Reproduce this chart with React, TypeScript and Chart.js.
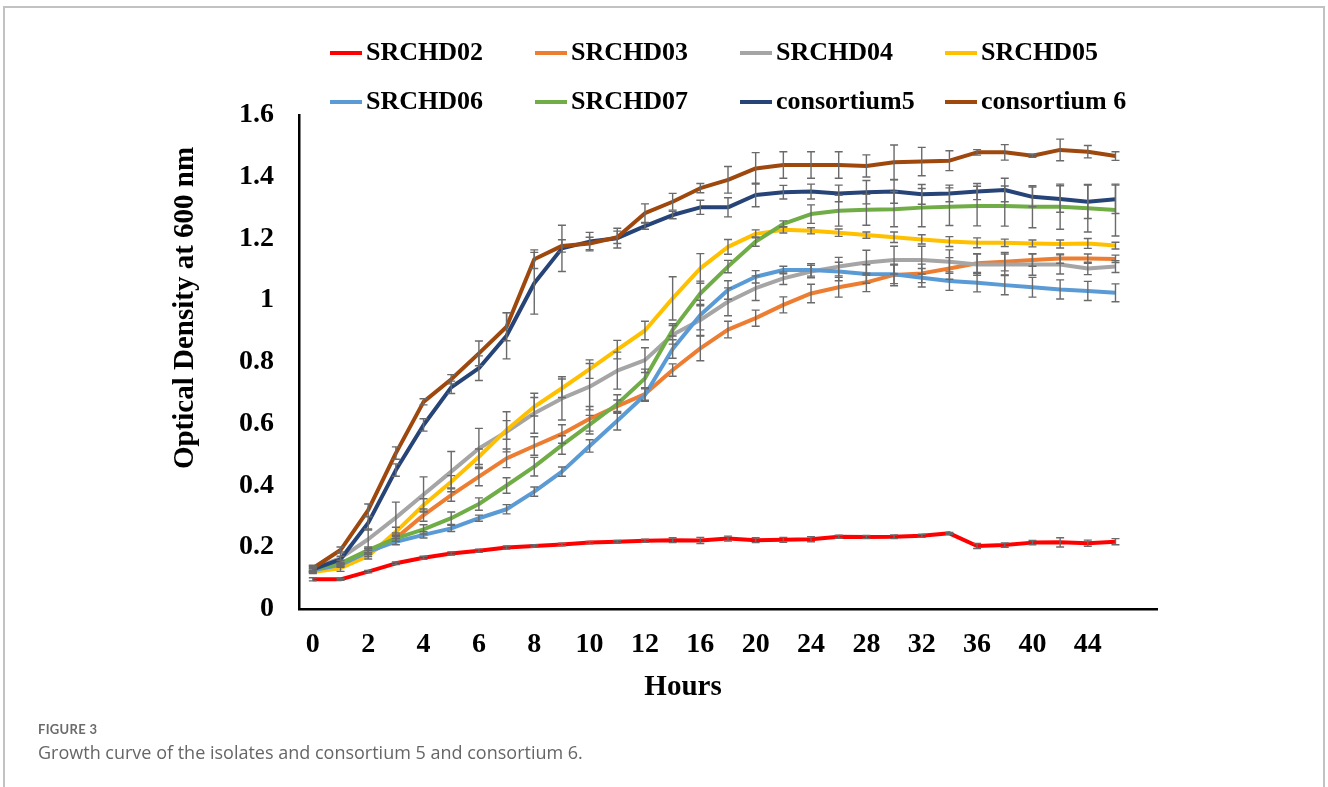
import React, { useEffect, useRef } from "react";
import { Chart, registerables } from "chart.js";

Chart.register(...registerables);

// Category axis (hours). The last category is an empty slot, as in the source chart.
const hours = ["0", "1", "2", "3", "4", "5", "6", "7", "8", "9", "10", "11", "12", "14", "16", "18", "20", "22", "24", "26", "28", "30", "32", "34", "36", "38", "40", "42", "44", "46", ""];

const yTicks = [0, 0.2, 0.4, 0.6, 0.8, 1, 1.2, 1.4, 1.6];

const seriesNames = ["SRCHD02", "SRCHD03", "SRCHD04", "SRCHD05", "SRCHD06", "SRCHD07", "consortium5", "consortium 6"];
const seriesColors = ["#FF0000", "#ED7D31", "#A5A5A5", "#FFC000", "#5B9BD5", "#70AD47", "#264478", "#9E480E"];

const srchd02 = [0.096, 0.096, 0.121, 0.148, 0.166, 0.18, 0.189, 0.199, 0.204, 0.209, 0.215, 0.218, 0.221, 0.223, 0.222, 0.228, 0.223, 0.224, 0.226, 0.234, 0.233, 0.234, 0.237, 0.245, 0.204, 0.207, 0.215, 0.216, 0.213, 0.218];
const srchd03 = [0.126, 0.14, 0.18, 0.229, 0.304, 0.369, 0.429, 0.488, 0.528, 0.567, 0.616, 0.657, 0.696, 0.774, 0.844, 0.905, 0.942, 0.985, 1.022, 1.042, 1.058, 1.082, 1.087, 1.103, 1.12, 1.125, 1.13, 1.135, 1.135, 1.134];
const srchd04 = [0.13, 0.165, 0.226, 0.296, 0.371, 0.445, 0.52, 0.574, 0.634, 0.682, 0.72, 0.772, 0.806, 0.888, 0.936, 0.995, 1.039, 1.071, 1.093, 1.109, 1.122, 1.13, 1.13, 1.125, 1.116, 1.116, 1.116, 1.116, 1.103, 1.109];
const srchd05 = [0.12, 0.132, 0.172, 0.25, 0.337, 0.412, 0.493, 0.58, 0.655, 0.715, 0.777, 0.84, 0.902, 1.006, 1.103, 1.173, 1.215, 1.228, 1.225, 1.219, 1.211, 1.204, 1.197, 1.19, 1.186, 1.186, 1.184, 1.182, 1.184, 1.177];
const srchd06 = [0.125, 0.143, 0.186, 0.218, 0.24, 0.261, 0.294, 0.323, 0.38, 0.445, 0.528, 0.61, 0.693, 0.842, 0.952, 1.033, 1.076, 1.098, 1.098, 1.093, 1.085, 1.084, 1.073, 1.062, 1.057, 1.049, 1.042, 1.035, 1.03, 1.024];
const srchd07 = [0.13, 0.148, 0.191, 0.229, 0.258, 0.294, 0.34, 0.4, 0.461, 0.531, 0.597, 0.664, 0.747, 0.904, 1.022, 1.109, 1.19, 1.247, 1.279, 1.29, 1.293, 1.295, 1.3, 1.303, 1.305, 1.305, 1.303, 1.303, 1.298, 1.292];
const consortium5 = [0.128, 0.161, 0.279, 0.45, 0.596, 0.718, 0.78, 0.885, 1.055, 1.168, 1.19, 1.201, 1.24, 1.276, 1.301, 1.301, 1.341, 1.35, 1.352, 1.346, 1.35, 1.352, 1.343, 1.346, 1.352, 1.357, 1.335, 1.328, 1.319, 1.327];
const consortium6 = [0.132, 0.191, 0.32, 0.505, 0.671, 0.744, 0.828, 0.914, 1.133, 1.176, 1.184, 1.204, 1.282, 1.319, 1.363, 1.39, 1.427, 1.438, 1.438, 1.438, 1.435, 1.447, 1.449, 1.452, 1.479, 1.479, 1.468, 1.487, 1.481, 1.467];

// Error bar half-lengths (± values)
const err02 = [0.005, 0.003, 0.004, 0.004, 0.005, 0.005, 0.005, 0.005, 0.004, 0.004, 0.004, 0.004, 0.005, 0.008, 0.01, 0.008, 0.008, 0.008, 0.008, 0.005, 0.005, 0.006, 0.005, 0.003, 0.008, 0.007, 0.007, 0.015, 0.01, 0.01];
const err03 = [0.005, 0.005, 0.01, 0.01, 0.02, 0.02, 0.03, 0.03, 0.03, 0.03, 0.04, 0.02, 0.02, 0.02, 0.04, 0.027, 0.026, 0.026, 0.03, 0.032, 0.03, 0.035, 0.03, 0.035, 0.03, 0.03, 0.02, 0.015, 0.015, 0.012];
const err04 = [0.01, 0.02, 0.03, 0.05, 0.057, 0.065, 0.065, 0.065, 0.065, 0.07, 0.075, 0.06, 0.04, 0.03, 0.05, 0.045, 0.04, 0.02, 0.02, 0.03, 0.04, 0.045, 0.045, 0.038, 0.035, 0.034, 0.035, 0.031, 0.02, 0.019];
const err05 = [0.005, 0.01, 0.01, 0.015, 0.02, 0.02, 0.025, 0.03, 0.03, 0.03, 0.03, 0.03, 0.03, 0.07, 0.048, 0.024, 0.013, 0.01, 0.01, 0.012, 0.01, 0.017, 0.015, 0.016, 0.016, 0.012, 0.011, 0.013, 0.016, 0.011];
const err06 = [0.005, 0.005, 0.01, 0.01, 0.01, 0.01, 0.01, 0.015, 0.015, 0.015, 0.02, 0.03, 0.02, 0.03, 0.048, 0.03, 0.02, 0.012, 0.02, 0.03, 0.03, 0.03, 0.03, 0.03, 0.03, 0.031, 0.032, 0.031, 0.031, 0.029];
const err07 = [0.005, 0.01, 0.01, 0.01, 0.015, 0.02, 0.02, 0.025, 0.03, 0.03, 0.03, 0.03, 0.03, 0.02, 0.04, 0.02, 0.015, 0.01, 0.03, 0.05, 0.05, 0.057, 0.062, 0.061, 0.064, 0.065, 0.068, 0.073, 0.077, 0.084];
const errC5 = [0.01, 0.01, 0.02, 0.02, 0.02, 0.02, 0.04, 0.075, 0.1, 0.075, 0.03, 0.032, 0.01, 0.012, 0.023, 0.031, 0.038, 0.022, 0.024, 0.027, 0.038, 0.038, 0.032, 0.027, 0.026, 0.038, 0.032, 0.043, 0.054, 0.046];
const errC6 = [0.01, 0.01, 0.02, 0.02, 0.01, 0.015, 0.04, 0.045, 0.03, 0.02, 0.02, 0.02, 0.03, 0.027, 0.015, 0.043, 0.051, 0.043, 0.043, 0.043, 0.036, 0.056, 0.046, 0.032, 0.009, 0.025, 0.005, 0.035, 0.02, 0.014];

const seriesValues = [srchd02, srchd03, srchd04, srchd05, srchd06, srchd07, consortium5, consortium6];
const seriesErrors = [err02, err03, err04, err05, err06, err07, errC5, errC6];

const xTitle = "Hours";
const yTitle = "Optical Density at 600 nm";

const SERIF = "'Liberation Serif', 'Times New Roman', serif";

export default function App() {
  const ref = useRef<HTMLCanvasElement | null>(null);

  useEffect(() => {
    if (!ref.current) return;

    const errorBars = {
      id: "errorBars",
      afterDatasetsDraw(chart: any) {
        const ctx = chart.ctx;
        const yScale = chart.scales.y;
        ctx.save();
        ctx.strokeStyle = "#6a6a6a";
        ctx.lineWidth = 1.4;
        chart.data.datasets.forEach((ds: any, i: number) => {
          const meta = chart.getDatasetMeta(i);
          const errs: number[] = ds.errors || [];
          ds.data.forEach((v: number, j: number) => {
            const e = errs[j];
            const pt = meta.data[j];
            if (!pt || e == null || v == null) return;
            const x = pt.x;
            const yt = yScale.getPixelForValue(v + e);
            const yb = yScale.getPixelForValue(v - e);
            ctx.beginPath();
            ctx.moveTo(x, yt);
            ctx.lineTo(x, yb);
            ctx.moveTo(x - 4, yt);
            ctx.lineTo(x + 4, yt);
            ctx.moveTo(x - 4, yb);
            ctx.lineTo(x + 4, yb);
            ctx.stroke();
          });
        });
        ctx.restore();
      },
    };

    const gridLegend = {
      id: "gridLegend",
      afterDraw(chart: any) {
        const ctx = chart.ctx;
        ctx.save();
        ctx.font = `bold 26px ${SERIF}`;
        ctx.textBaseline = "middle";
        ctx.textAlign = "left";
        chart.data.datasets.forEach((ds: any, i: number) => {
          const col = i % 4;
          const row = Math.floor(i / 4);
          const x0 = 330 + col * 205;
          const y0 = 53 + row * 49;
          ctx.strokeStyle = ds.borderColor;
          ctx.lineWidth = 4;
          ctx.beginPath();
          ctx.moveTo(x0, y0);
          ctx.lineTo(x0 + 32, y0);
          ctx.stroke();
          ctx.fillStyle = "#000";
          ctx.fillText(ds.label, x0 + 36, y0);
        });
        ctx.restore();
      },
    };

    const axisTitles = {
      id: "axisTitles",
      afterDraw(chart: any) {
        const ctx = chart.ctx;
        ctx.save();
        ctx.fillStyle = "#000";
        ctx.font = `bold 29px ${SERIF}`;
        ctx.textAlign = "center";
        ctx.textBaseline = "middle";
        ctx.fillText(xTitle, 683, 688);
        ctx.translate(186, 308);
        ctx.rotate(-Math.PI / 2);
        ctx.fillText(yTitle, 0, 0);
        ctx.restore();
      },
    };

    const chart = new Chart(ref.current, {
      type: "line",
      data: {
        labels: hours,
        datasets: seriesNames.map((name, i) => ({
          label: name,
          data: seriesValues[i],
          errors: seriesErrors[i],
          borderColor: seriesColors[i],
          backgroundColor: seriesColors[i],
          borderWidth: 4,
          pointRadius: 0,
          pointHoverRadius: 0,
          tension: 0,
          fill: false,
          borderJoinStyle: "round",
          order: 7 - i,
        })) as any,
      },
      options: {
        responsive: false,
        animation: false,
        devicePixelRatio: 1,
        layout: { padding: { left: 0, top: 115, right: 171, bottom: 118 } },
        plugins: {
          legend: { display: false },
          tooltip: { enabled: false },
          title: { display: false },
        },
        scales: {
          x: {
            type: "category",
            offset: true,
            grid: { display: false, drawTicks: false },
            border: { display: true, color: "#000", width: 2.5 },
            ticks: {
              autoSkip: false,
              maxRotation: 0,
              minRotation: 0,
              padding: 19,
              color: "#000",
              font: { family: SERIF, size: 28, weight: "bold" },
              callback: (_v: any, idx: number) => (idx % 2 === 0 ? hours[idx] : ""),
            },
            afterFit: (scale: any) => {
              scale.height = 60;
            },
          },
          y: {
            min: 0,
            max: 1.6,
            afterBuildTicks: (scale: any) => {
              scale.ticks = yTicks.map((v) => ({ value: v }));
            },
            grid: { display: false, drawTicks: false },
            border: { display: true, color: "#000", width: 2.5 },
            ticks: {
              padding: 25,
              color: "#000",
              font: { family: SERIF, size: 28, weight: "bold" },
              callback: (v: any) => String(Math.round(Number(v) * 10) / 10),
            },
            afterFit: (scale: any) => {
              scale.width = 299;
            },
          },
        },
      } as any,
      plugins: [errorBars, gridLegend, axisTitles],
    });

    return () => chart.destroy();
  }, []);

  return (
    <div style={{ position: "fixed", left: 0, top: 0, width: 1328, height: 787, background: "#fff", overflow: "hidden" }}>
      <div
        style={{
          position: "absolute",
          left: 3,
          top: 6,
          width: 1322,
          height: 900,
          border: "2px solid #c2c2c2",
          boxSizing: "border-box",
        }}
      />
      <canvas ref={ref} width={1328} height={787} style={{ position: "absolute", left: 0, top: 0, width: 1328, height: 787 }} />
      <div
        style={{
          position: "absolute",
          left: 38,
          top: 723,
          fontFamily: "Lato, 'Open Sans', sans-serif",
          fontSize: 13,
          lineHeight: "13px",
          fontWeight: 700,
          color: "#6b6b6b",
          letterSpacing: 0.3,
          whiteSpace: "nowrap",
        }}
      >
        FIGURE 3
      </div>
      <div
        style={{
          position: "absolute",
          left: 38,
          top: 743,
          fontFamily: "'Open Sans', Lato, sans-serif",
          fontSize: 18,
          lineHeight: "18px",
          fontWeight: 400,
          color: "#666",
          whiteSpace: "nowrap",
        }}
      >
        Growth curve of the isolates and consortium 5 and consortium 6.
      </div>
    </div>
  );
}
